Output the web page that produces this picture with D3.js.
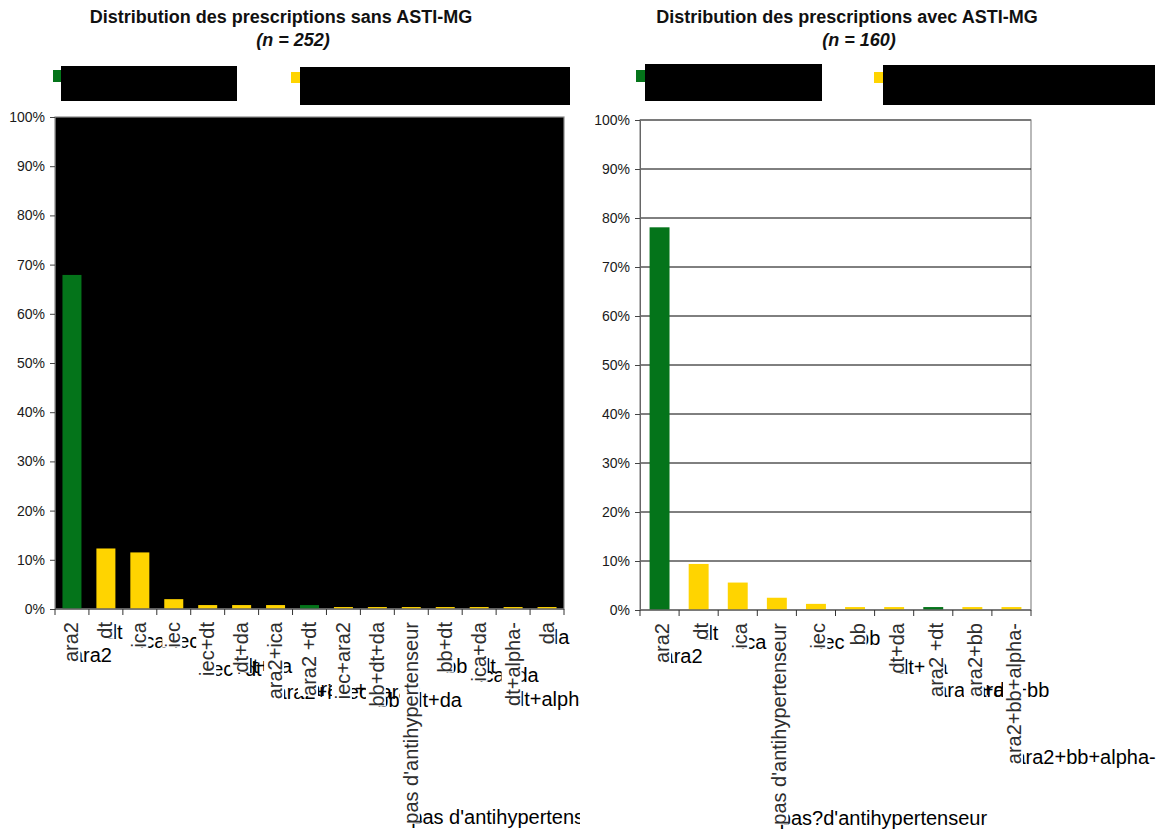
<!DOCTYPE html>
<html><head><meta charset="utf-8">
<script src="https://cdn.jsdelivr.net/npm/d3@7"></script>
<style>body{margin:0;background:#fff}svg{display:block}</style>
</head><body>
<svg id="c" width="1162" height="834"></svg>
<script>
// ---- data ----
const catsSans   = ["ara2","dt","ica","iec","iec+dt","dt+da","ara2+ica","ara2 +dt","iec+ara2","bb+dt+da","pas d'antihypertenseur","bb+dt","ica+da","dt+alpha-","da"];
const ghostSans  = ["ara2","dt","ica","iec","iec+dt","dt+da","ara2+ica","ara2 +dt","iec+ara2","bb+dt+da","pas d'antihypertenseur","bb+dt","ica+da","dt+alpha-","da"];
const valsSans   = [67.9,12.3,11.5,2.0,0.8,0.8,0.8,0.8,0.4,0.4,0.4,0.4,0.4,0.4,0.4];
const groupSans  = ["g","y","y","y","y","y","y","g","y","y","y","y","y","y","y"];

const catsAvec   = ["ara2","dt","ica","pas d'antihypertenseur","iec","bb","dt+da","ara2 +dt","ara2+bb","ara2+bb+alpha-"];
const ghostAvec  = ["ara2","dt","ica","pas?d'antihypertenseur","iec","bb","dt+da","ara2 +dt","ara2+bb","ara2+bb+alpha-"];
const valsAvec   = [78.1,9.4,5.6,2.5,1.25,0.6,0.6,0.6,0.6,0.6];
const groupAvec  = ["g","y","y","y","y","y","y","g","y","y"];

const yTicks = [0,10,20,30,40,50,60,70,80,90,100];
const titles = ["Distribution des prescriptions sans ASTI-MG","Distribution des prescriptions avec ASTI-MG"];
const subtitles = ["(n = 252)","(n = 160)"];

const colors = {g:"#04741A", y:"#FFD400"};
const FONT = "'Liberation Sans', Arial, Helvetica, sans-serif";

const svg = d3.select("#c");

function measure(txt, size){
  const t = svg.append("text").attr("font-family",FONT).attr("font-size",size).text(txt);
  const w = t.node().getComputedTextLength(); t.remove(); return w;
}

function chart(opt){
  const {cats, ghosts, vals, groups, L, R, T, B, title, sub, titleX, bg, grid, offX, clipW, legend, barFrac, idx} = opt;
  const g = svg.append("g");
  const x = d3.scaleBand().domain(cats).range([L,R]).padding(0);
  const xb = d3.scaleBand().domain(cats).range([L,R]).paddingInner(1-barFrac).paddingOuter((1-barFrac)/2);
  const y = d3.scaleLinear().domain([0,100]).range([B,T]);

  // titles
  g.append("text").attr("x",titleX).attr("y",23).attr("text-anchor","middle")
    .attr("font-family",FONT).attr("font-weight","bold").attr("font-size",18).attr("fill","#111").text(title);
  g.append("text").attr("x",titleX+12).attr("y",46).attr("text-anchor","middle")
    .attr("font-family",FONT).attr("font-weight","bold").attr("font-style","italic").attr("font-size",18).attr("fill","#111").text(sub);

  // legend
  legend.forEach(l=>{
    g.append("rect").attr("x",l.sx).attr("y",l.sy).attr("width",9).attr("height",l.sh).attr("fill",colors[l.k]);
    g.append("rect").attr("x",l.bx).attr("y",l.by).attr("width",l.bw).attr("height",l.bh).attr("fill","#000");
  });

  // plot area
  g.append("rect").attr("x",L).attr("y",T).attr("width",R-L).attr("height",B-T)
    .attr("fill",bg).attr("stroke","#8a8a8a").attr("stroke-width",1.2);
  if(grid){
    g.selectAll(".gl").data(yTicks.filter(d=>d>0&&d<100)).join("line")
      .attr("x1",L).attr("x2",R).attr("y1",d=>y(d)).attr("y2",d=>y(d))
      .attr("stroke","#000").attr("stroke-width",1);
    g.append("line").attr("x1",L).attr("x2",R).attr("y1",y(100)).attr("y2",y(100))
      .attr("stroke","#7a7a7a").attr("stroke-width",2);
  }

  // bars
  g.selectAll(".bar").data(cats).join("rect")
    .attr("x",d=>xb(d)).attr("width",xb.bandwidth())
    .attr("y",(d,i)=>y(vals[i])).attr("height",(d,i)=>y(0)-y(vals[i]))
    .attr("fill",(d,i)=>colors[groups[i]]);

  // y axis
  const ya = d3.axisLeft(y).tickValues(yTicks).tickFormat(d=>d+"%").tickSize(5).tickPadding(5);
  const yg = g.append("g").attr("transform",`translate(${L},0)`).call(ya);
  yg.select(".domain").attr("stroke","#666");
  yg.selectAll(".tick line").attr("stroke","#444");
  yg.selectAll("text").attr("font-family",FONT).attr("font-size",14).attr("fill","#1a1a1a");

  // x axis line + ticks at band boundaries
  g.append("line").attr("x1",L).attr("x2",R).attr("y1",B).attr("y2",B).attr("stroke","#666").attr("stroke-width",1.5);
  const bounds = cats.map(c=>x(c)).concat([R]);
  g.selectAll(".xt").data(bounds).join("line")
    .attr("x1",d=>d).attr("x2",d=>d).attr("y1",B).attr("y2",B+6).attr("stroke","#333");

  // labels
  const fs = 20, top = B+13;
  const clipId = "clip"+idx;
  svg.append("clipPath").attr("id",clipId).append("rect").attr("x",clipW[0]).attr("y",0).attr("width",clipW[1]-clipW[0]).attr("height",834);
  const lab = g.append("g").attr("clip-path",`url(#${clipId})`).attr("font-family",FONT).attr("font-size",fs);
  const lens = cats.map(c=>measure(c,fs));
  // ghost (unrotated) labels
  cats.forEach((c,i)=>{
    const cx = x(c)+x.bandwidth()/2;
    lab.append("text").attr("x",cx+offX-6.5).attr("y",top+lens[i]).attr("fill","#000").text(ghosts[i]);
  });
  // vertical labels with white background
  cats.forEach((c,i)=>{
    const cx = x(c)+x.bandwidth()/2;
    const vg = lab.append("g").attr("transform",`translate(${cx+offX},${top}) rotate(-90)`);
    vg.append("rect").attr("x",-lens[i]).attr("y",-0.9*fs).attr("width",lens[i]).attr("height",1.0*fs).attr("fill","#fff");
    vg.append("text").attr("text-anchor","end").attr("fill","#2e2e2e").text(c);
  });
}

chart({idx:0, cats:catsSans, ghosts:ghostSans, vals:valsSans, groups:groupSans,
  L:55, R:564, T:117, B:609, title:titles[0], sub:subtitles[0], titleX:281, bg:"#000", grid:false,
  offX:6.5, clipW:[0,580], barFrac:0.56,
  legend:[{k:"g",sx:53,sy:70,sh:12,bx:61,by:66,bw:176,bh:35},{k:"y",sx:291,sy:72,sh:11,bx:300,by:67,bw:270,bh:38}]});

chart({idx:1, cats:catsAvec, ghosts:ghostAvec, vals:valsAvec, groups:groupAvec,
  L:640, R:1031, T:120, B:610, title:titles[1], sub:subtitles[1], titleX:847, bg:"#fff", grid:true,
  offX:9.5, clipW:[580,1162], barFrac:0.51,
  legend:[{k:"g",sx:636,sy:70,sh:12,bx:645,by:64,bw:177,bh:37},{k:"y",sx:874,sy:72,sh:11,bx:883,by:65,bw:272,bh:40}]});
</script>
</body></html>
